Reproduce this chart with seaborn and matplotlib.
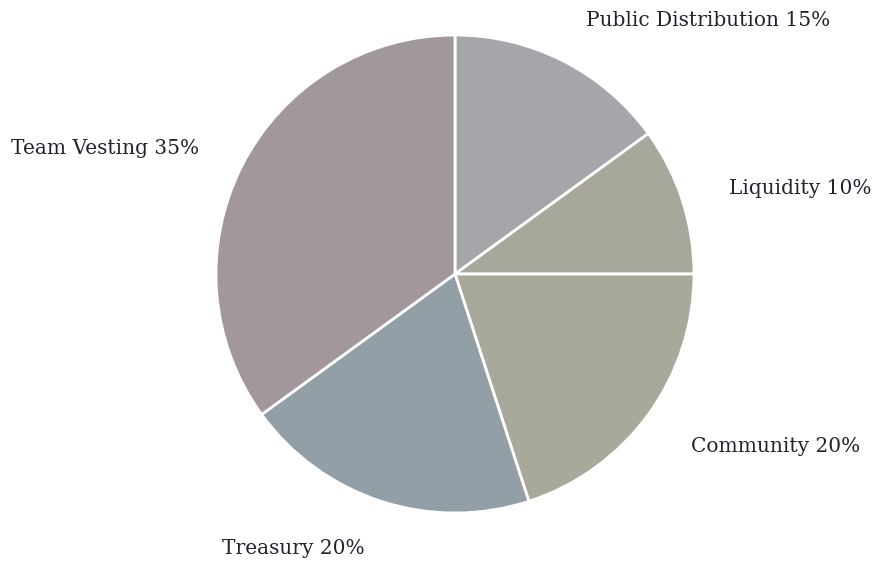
import matplotlib
matplotlib.use("Agg")
import matplotlib.pyplot as plt
import seaborn as sns

labels = ["Public Distribution", "Liquidity", "Community", "Treasury", "Team Vesting"]
values = [15, 10, 20, 20, 35]
colors = ["#a5a6aa", "#a7a79b", "#a8a89b", "#939fa6", "#a3979e"]
label_pos = [(708, 20), (800, 188), (776, 447), (293, 549), (105, 148)]

sns.set_theme(style="white")
plt.rcParams['font.family'] = ['DejaVu Serif']

W, H = 874, 564
fig = plt.figure(figsize=(W / 100, H / 100), dpi=100)
ax = fig.add_axes([0, 0, 1, 1])

ax.pie(values, colors=colors, startangle=90, counterclock=False,
       center=(455, H - 274), radius=239, frame=True,
       wedgeprops=dict(edgecolor="white", linewidth=2))
ax.set_xlim(0, W)
ax.set_ylim(0, H)
ax.set_aspect("equal")
ax.axis("off")

for lab, v, (x, y) in zip(labels, values, label_pos):
    ax.text(x, H - y, f"{lab} {v}%", ha="center", va="center",
            fontsize=14.5, color="#24222e")

fig.savefig("out.png", dpi=100, facecolor="white")
